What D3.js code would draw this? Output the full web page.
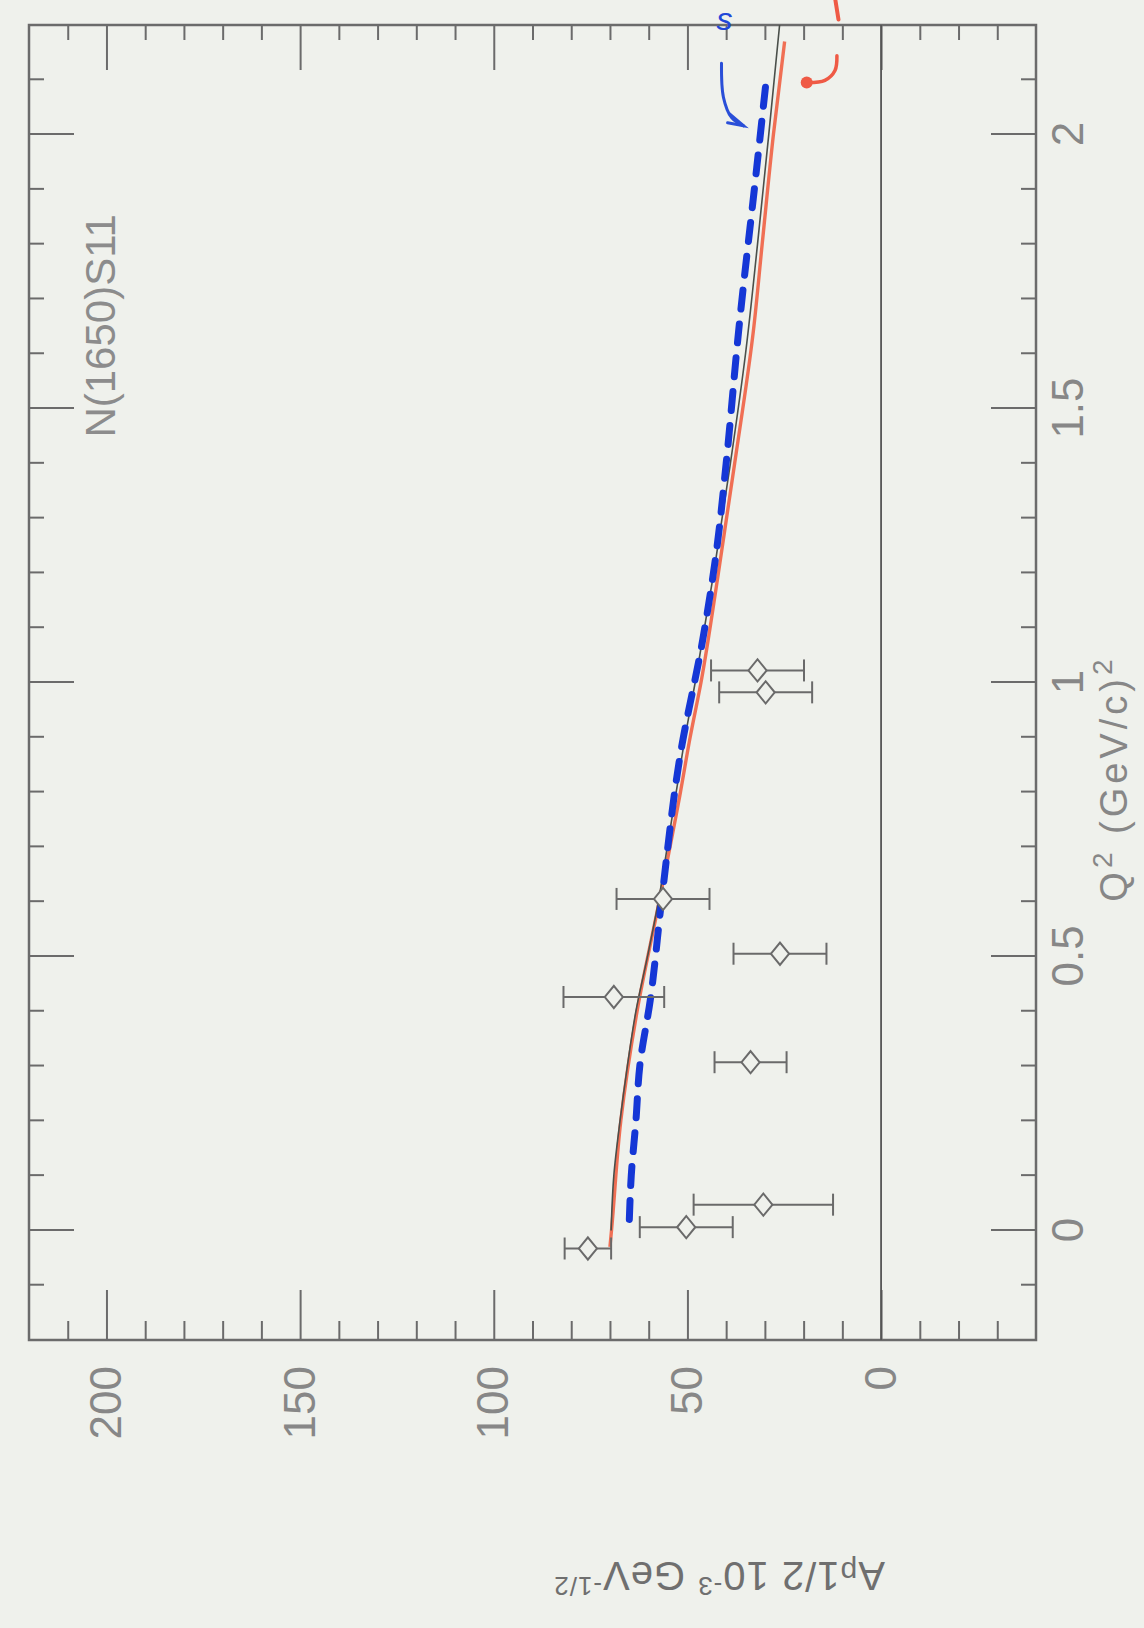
<!DOCTYPE html>
<html>
<head>
<meta charset="utf-8">
<script src="https://cdn.jsdelivr.net/npm/d3@7/dist/d3.min.js"></script>
<style>
  body { margin: 0; background: #eff1ec; }
  text { font-family: "Liberation Sans", "DejaVu Sans", sans-serif; }
</style>
</head>
<body>
<svg id="chart"></svg>
<script>
// data points: Q^2, amplitude, error
var pointQ2  = [-0.033, 0.006, 0.047, 0.307, 0.426, 0.505, 0.605, 0.982, 1.022];
var pointA   = [75.7, 50.3, 30.4, 33.7, 69.0, 26.1, 56.3, 29.8, 31.9];
var pointErr = [6, 12, 18, 9.3, 13, 12, 12, 12, 12];

// thin black model curve
var blackQ2 = [0, 0.1, 0.2, 0.3, 0.4, 0.5, 0.6, 0.7, 0.8, 0.9, 1.0, 1.2, 1.4, 1.6, 1.8, 2.0, 2.2];
var blackA  = [69.7, 69.0, 67.4, 65.5, 63.3, 60.3, 57.5, 55.2, 52.9, 50.6, 48.0, 43.2, 38.9, 35.0, 31.9, 29.0, 26.2];

// red (hand drawn) curve
var redQ2 = [-0.03, 0, 0.2, 0.4, 0.6, 0.8, 0.9, 1.0, 1.2, 1.4, 1.64, 1.8, 2.0, 2.17];
var redA  = [70, 69.6, 67.2, 63, 57.3, 51.8, 49.3, 46.5, 42, 37.8, 33, 30.7, 27.8, 24.9];

// blue dashed curve
var blueQ2 = [0.02, 0.1, 0.2, 0.3, 0.42, 0.6, 0.87, 1.08, 1.24, 1.4, 1.64, 1.94, 2.09];
var blueA  = [65, 64.5, 63.3, 62.3, 59.6, 56.7, 51.8, 46, 42.5, 40, 36.8, 32.1, 29.8];

// handwritten arrows near the top
var blueArrowQ2 = [2.130, 2.068, 2.031, 2.016];
var blueArrowA  = [41.2, 40.7, 38.6, 35.5];
var redArrowQ2  = [2.144, 2.117, 2.099, 2.095];
var redArrowA   = [11.4, 11.9, 14.5, 19.2];

var q2Ticks = [0, 0.5, 1, 1.5, 2];
var q2Labels = ["0", "0.5", "1", "1.5", "2"];
var aTicks = [0, 50, 100, 150, 200];

var W = 1315, H = 1007;   // plot size in the un-rotated frame
var ox = 29, oy = 1340;   // where the rotated frame's origin lands

var svg = d3.select("#chart").attr("width", 1144).attr("height", 1628);
svg.append("rect").attr("width", 1144).attr("height", 1628).attr("fill", "#eff1ec");

// the page is scanned turned 90 degrees, so draw a normal chart and turn it
var g = svg.append("g").attr("transform", "translate(" + ox + "," + oy + ") rotate(-90)");

var x = d3.scaleLinear().domain([-0.2, 2.2]).range([0, W]);
var y = d3.scaleLinear().domain([-40, 220]).range([H, 0]);

var axisColor = "#6b6b6b";
var labelColor = "#878787";

function styleAxis(sel) {
	sel.select(".domain").remove();
	sel.selectAll(".tick line").attr("stroke", axisColor).attr("stroke-width", 2);
	sel.selectAll(".tick text")
		.attr("fill", labelColor)
		.style("font-size", "44px");
}

var q2Minor = d3.range(-1, 22).map(function(i) { return i / 10; })
	.filter(function(v) { return Math.abs(v * 2 - Math.round(v * 2)) > 1e-6; });
var aMinor = d3.range(-3, 22).map(function(i) { return i * 10; })
	.filter(function(v) { return v % 50 !== 0; });

// Q2 axis (right side on the page)
g.append("g").attr("transform", "translate(0," + H + ")")
	.call(d3.axisBottom(x).tickValues(q2Ticks).tickFormat(function(d, i) { return q2Labels[i]; })
		.tickSize(-45).tickSizeOuter(0).tickPadding(16))
	.call(styleAxis);
g.append("g").attr("transform", "translate(0," + H + ")")
	.call(d3.axisBottom(x).tickValues(q2Minor).tickFormat("").tickSize(-15).tickSizeOuter(0))
	.call(styleAxis);
g.append("g")
	.call(d3.axisTop(x).tickValues(q2Ticks).tickFormat("").tickSize(-45).tickSizeOuter(0))
	.call(styleAxis);
g.append("g")
	.call(d3.axisTop(x).tickValues(q2Minor).tickFormat("").tickSize(-15).tickSizeOuter(0))
	.call(styleAxis);

// amplitude axis (bottom on the page)
g.append("g")
	.call(d3.axisLeft(y).tickValues(aTicks).tickSize(-50).tickSizeOuter(0).tickPadding(26))
	.call(styleAxis);
g.append("g")
	.call(d3.axisLeft(y).tickValues(aMinor).tickFormat("").tickSize(-19).tickSizeOuter(0))
	.call(styleAxis);
g.append("g").attr("transform", "translate(" + W + ",0)")
	.call(d3.axisRight(y).tickValues(aTicks).tickFormat("").tickSize(-45).tickSizeOuter(0))
	.call(styleAxis);
g.append("g").attr("transform", "translate(" + W + ",0)")
	.call(d3.axisRight(y).tickValues(aMinor).tickFormat("").tickSize(-15).tickSizeOuter(0))
	.call(styleAxis);

// frame and zero line
g.append("rect").attr("width", W).attr("height", H)
	.attr("fill", "none").attr("stroke", axisColor).attr("stroke-width", 2.5);
g.append("line")
	.attr("x1", 0).attr("x2", W).attr("y1", y(0)).attr("y2", y(0))
	.attr("stroke", "#555").attr("stroke-width", 1.8);

// curves
var line = d3.line()
	.x(function(d) { return x(d[0]); })
	.y(function(d) { return y(d[1]); })
	.curve(d3.curveMonotoneX);

function pairs(qs, as) { return qs.map(function(q, i) { return [q, as[i]]; }); }

g.append("path").datum(pairs(redQ2, redA))
	.attr("d", line).attr("fill", "none")
	.attr("stroke", "#f0583a").attr("stroke-width", 3.4).attr("stroke-opacity", 0.85);
g.append("path").datum(pairs(blackQ2, blackA))
	.attr("d", line).attr("fill", "none")
	.attr("stroke", "#4a4f4a").attr("stroke-width", 1.6);
g.append("path").datum(pairs(blueQ2, blueA))
	.attr("d", line).attr("fill", "none")
	.attr("stroke", "#1537d6").attr("stroke-width", 7)
	.attr("stroke-dasharray", "19 15").attr("stroke-linecap", "round");

// data points with error bars
var pts = pointQ2.map(function(q, i) { return { q: q, a: pointA[i], e: pointErr[i] }; });
var pg = g.append("g").attr("stroke", "#6a6a6a").attr("stroke-width", 2).attr("fill", "none");
pg.selectAll(".bar").data(pts).enter().append("line")
	.attr("x1", function(d) { return x(d.q); }).attr("x2", function(d) { return x(d.q); })
	.attr("y1", function(d) { return y(d.a - d.e); }).attr("y2", function(d) { return y(d.a + d.e); });
pg.selectAll(".capLo").data(pts).enter().append("line")
	.attr("x1", function(d) { return x(d.q) - 11; }).attr("x2", function(d) { return x(d.q) + 11; })
	.attr("y1", function(d) { return y(d.a - d.e); }).attr("y2", function(d) { return y(d.a - d.e); });
pg.selectAll(".capHi").data(pts).enter().append("line")
	.attr("x1", function(d) { return x(d.q) - 11; }).attr("x2", function(d) { return x(d.q) + 11; })
	.attr("y1", function(d) { return y(d.a + d.e); }).attr("y2", function(d) { return y(d.a + d.e); });
pg.selectAll(".mark").data(pts).enter().append("path")
	.attr("d", d3.symbol().type(d3.symbolDiamond2).size(260))
	.attr("fill", "#eff1ec")
	.attr("transform", function(d) { return "translate(" + x(d.q) + "," + y(d.a) + ") scale(1.1,0.9)"; });

// labels
g.append("text")
	.attr("transform", "translate(" + x(1.447) + "," + y(197.8) + ")")
	.attr("fill", "#8c8c8c").style("font-size", "42px")
	.text("N(1650)S11");

var qTitle = g.append("text")
	.attr("x", x(0.6)).attr("y", H + 91)
	.attr("fill", labelColor).style("font-size", "38px").style("letter-spacing", "4px");
qTitle.append("tspan").text("Q");
qTitle.append("tspan").attr("baseline-shift", "super").style("font-size", "28px").text("2");
qTitle.append("tspan").text(" (GeV/c)");
qTitle.append("tspan").attr("baseline-shift", "super").style("font-size", "28px").text("2");

var aTitle = g.append("text")
	.attr("transform", "translate(-222," + y(-1) + ") rotate(-90)")
	.attr("fill", "#6f6f6f").style("font-size", "40px").style("letter-spacing", "1px");
aTitle.append("tspan").text("A");
aTitle.append("tspan").style("font-size", "30px").text("p");
aTitle.append("tspan").text("1/2 10");
aTitle.append("tspan").attr("baseline-shift", "super").style("font-size", "26px").text("-3");
aTitle.append("tspan").text(" GeV");
aTitle.append("tspan").attr("baseline-shift", "super").style("font-size", "26px").text("-1/2");

// handwritten annotations
var handLine = d3.line()
	.x(function(d) { return x(d[0]); })
	.y(function(d) { return y(d[1]); })
	.curve(d3.curveCatmullRom);
var bArrow = pairs(blueArrowQ2, blueArrowA);
g.append("path").datum(bArrow).attr("d", handLine).attr("fill", "none")
	.attr("stroke", "#2a4fd8").attr("stroke-width", 3).attr("stroke-linecap", "round");
var bTip = bArrow[bArrow.length - 1];
g.append("path")
	.attr("d", "M" + (x(bTip[0]) + 12) + "," + (y(bTip[1]) - 14) + "L" + x(bTip[0]) + "," + y(bTip[1])
		+ "L" + (x(bTip[0]) + 3) + "," + (y(bTip[1]) - 16))
	.attr("fill", "none").attr("stroke", "#2a4fd8").attr("stroke-width", 3).attr("stroke-linecap", "round");

var rArrow = pairs(redArrowQ2, redArrowA);
g.append("path").datum(rArrow).attr("d", handLine).attr("fill", "none")
	.attr("stroke", "#ef5a45").attr("stroke-width", 3.5).attr("stroke-linecap", "round");
var rTip = rArrow[rArrow.length - 1];
g.append("circle").attr("cx", x(rTip[0])).attr("cy", y(rTip[1])).attr("r", 6).attr("fill", "#ef5a45");

// bits of handwriting above the frame, upright on the page
svg.append("text")
	.attr("x", ox + y(42.5)).attr("y", 30)
	.attr("fill", "#2147d8").style("font-size", "32px").style("font-style", "italic")
	.text("s");
svg.append("line")
	.attr("x1", ox + y(11.8)).attr("x2", ox + y(11.0))
	.attr("y1", 0).attr("y2", oy - x(2.21))
	.attr("stroke", "#ef5a45").attr("stroke-width", 4).attr("stroke-linecap", "round");
</script>
</body>
</html>
